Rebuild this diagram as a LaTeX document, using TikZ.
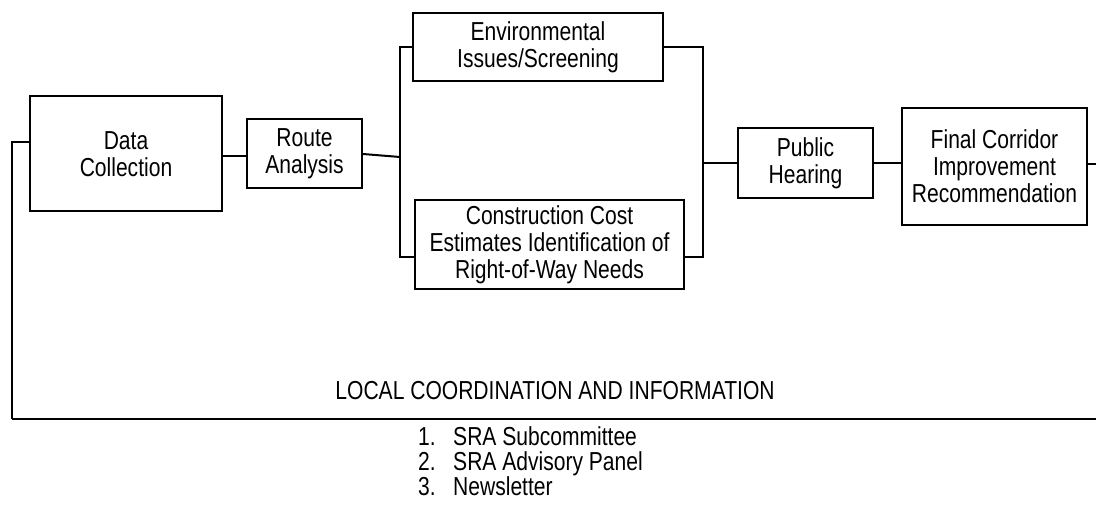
\documentclass[tikz,border=0pt]{standalone}
\usepackage{fontspec}
\setmainfont{Liberation Sans}[FakeStretch=0.81]
\begin{document}
\begin{tikzpicture}[x=1pt,y=-1pt,
  box/.style={draw,line width=2pt,inner sep=0pt,align=center,
    font=\fontsize{26}{27}\selectfont},
  wire/.style={line width=2pt},
  lbl/.style={inner sep=0pt,font=\fontsize{26}{27}\selectfont},
  every node/.append style={text=black}]
\useasboundingbox[fill=white] (0,0) rectangle (1096,508);
% boxes
\node[box,minimum width=192pt,minimum height=115pt] (dc) at (126,154) {Data\\Collection};
\node[box,minimum width=115pt,minimum height=69pt] (ra) at (304.5,154) {Route\\Analysis};
\node[box,minimum width=250pt,minimum height=68pt] (env) at (538,47) {Environmental\\Issues/Screening};
\node[box,minimum width=269pt,minimum height=89pt] (cc) at (549.5,244.5) {Construction Cost\\Estimates Identification of\\Right-of-Way Needs};
\node[box,minimum width=135pt,minimum height=70pt] (ph) at (805.5,163) {Public\\Hearing};
\node[box,minimum width=185pt,minimum height=117pt] (fc) at (994.5,166.5) {Final Corridor\\Improvement\\Recommendation};
% junctions
\coordinate (lbm) at (400,157);
\coordinate (lbt) at (400,47);
\coordinate (lbb) at (400,257);
\coordinate (rbt) at (703,47);
\coordinate (rbb) at (703,257);
\coordinate (rbm) at (703,163);
\coordinate (lp1) at (12,142);
\coordinate (lp2) at (12,419);
\coordinate (lp3) at (1096,419);
\coordinate (rend) at (1096,164);
% connectors
\draw[wire] (dc.east |- 0,156) -- (ra.west |- 0,156);
\draw[wire] (ra.east) -- (lbm);
\draw[wire] (env.west) -- (lbt) -- (lbb) -- (cc.west |- lbb);
\draw[wire] (env.east) -- (rbt) -- (rbb) -- (cc.east |- rbb);
\draw[wire] (rbm) -- (ph.west);
\draw[wire] (ph.east) -- (fc.west |- ph.east);
\draw[wire] (fc.east |- rend) -- (rend);
\draw[wire] (dc.west |- lp1) -- (lp1) -- (lp2);
\draw[line width=2.6pt] (lp2) -- (lp3);
% texts
\node[lbl,anchor=base] (loc) at (555,399) {LOCAL COORDINATION AND INFORMATION};
\node[lbl,anchor=base west] (n1) at (418,445) {1.};
\node[lbl,anchor=base west] (t1) at (453,445) {SRA Subcommittee};
\node[lbl,anchor=base west] (n2) at (418,470) {2.};
\node[lbl,anchor=base west] (t2) at (453,470) {SRA Advisory Panel};
\node[lbl,anchor=base west] (n3) at (418,495) {3.};
\node[lbl,anchor=base west] (t3) at (453,495) {Newsletter};
\end{tikzpicture}
\end{document}
